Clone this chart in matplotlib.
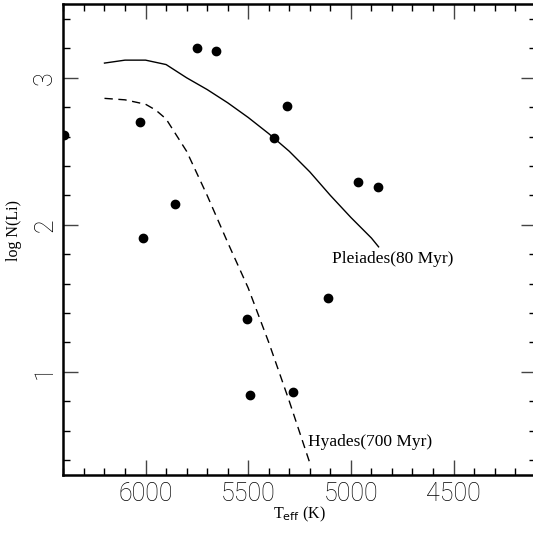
import matplotlib.pyplot as plt
import numpy as np
from matplotlib.ticker import MultipleLocator

# observed stars
teff = [6395, 6027, 6013, 5855, 5750, 5659, 5312, 5372, 4963, 4869, 5111, 5280, 5508, 5489]
logn = [2.61, 2.70, 1.91, 2.14, 3.20, 3.18, 2.81, 2.59, 2.29, 2.26, 1.50, 0.86, 1.36, 0.84]

# cluster curves
ple_t = [6200, 6100, 6000, 5900, 5800, 5700, 5600, 5500, 5400, 5300, 5200, 5100, 5000, 4900, 4865]
ple_n = [3.10, 3.12, 3.12, 3.09, 3.00, 2.92, 2.83, 2.73, 2.62, 2.50, 2.36, 2.20, 2.05, 1.91, 1.85]
hya_t = [6200, 6100, 6000, 5950, 5900, 5850, 5800, 5700, 5600, 5500, 5400, 5300, 5200]
hya_n = [2.86, 2.85, 2.82, 2.78, 2.72, 2.61, 2.50, 2.20, 1.88, 1.57, 1.20, 0.80, 0.38]

fig = plt.figure(figsize=(5.33, 5.34), dpi=100)
ax = fig.add_axes([0.119, 0.111, 0.886, 0.881])

ax.plot(teff, logn, 'o', color='k', ms=6)
ax.plot(ple_t, ple_n, '-', color='k', lw=1)
ax.plot(hya_t, hya_n, color='k', lw=1, dashes=(6, 4))

ax.text(5091, 1.77, 'Pleiades(80 Myr)', family='Liberation Serif', fontsize=12.5, va='center')
ax.text(5208, 0.52, 'Hyades(700 Myr)', family='Liberation Serif', fontsize=12.5, va='center')

ax.set_xlim(6400, 4100)
ax.set_ylim(0.3, 3.5)
ax.xaxis.set_major_locator(MultipleLocator(500))
ax.xaxis.set_minor_locator(MultipleLocator(100))
ax.yaxis.set_major_locator(MultipleLocator(1))
ax.yaxis.set_minor_locator(MultipleLocator(0.2))

ax.tick_params(which='both', direction='in', top=True, right=True, width=1)
ax.tick_params(which='major', length=11, color='#444444')
ax.tick_params(which='minor', length=5)
ax.tick_params(axis='x', labelsize=18, pad=5.5, labelcolor='black')
ax.tick_params(axis='y', labelsize=18, pad=4.5, labelrotation=90, labelcolor='black')
for lab in ax.get_xticklabels() + ax.get_yticklabels():
    lab.set_family('Roboto')
    lab.set_fontweight('light')
for lab in ax.get_yticklabels():
    lab.set_verticalalignment('center')
for s in ax.spines.values():
    s.set_linewidth(1.8)

ax.set_xlabel(r'T$_{\rm eff}$ (K)', family='Liberation Serif', fontsize=11.5)
ax.set_ylabel('log N(Li)', family='Liberation Serif', fontsize=11.5)
ax.xaxis.set_label_coords(0.5, -0.064)
ax.yaxis.set_label_coords(-0.088, 0.52)

fig.savefig('out.png', dpi=100)
